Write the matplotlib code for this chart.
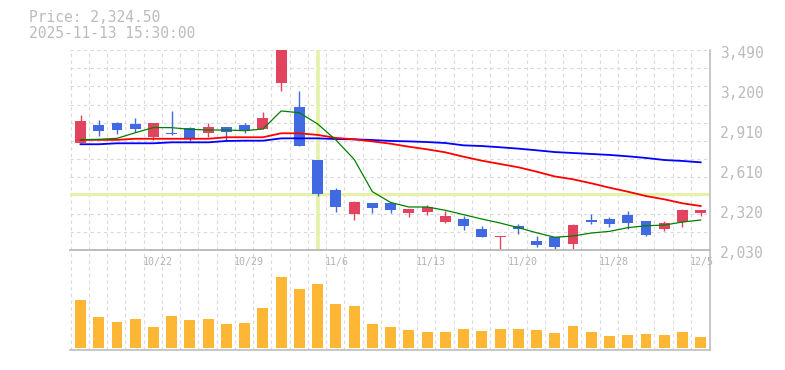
import matplotlib
matplotlib.use("Agg")
import matplotlib.pyplot as plt
import matplotlib.transforms as mtransforms
import numpy as np

# ---------------- data ----------------
dates = ["10/16", "10/17", "10/20", "10/21", "10/22", "10/23", "10/24",
         "10/27", "10/28", "10/29", "10/30", "10/31", "11/4", "11/5",
         "11/6", "11/7", "11/10", "11/11", "11/12", "11/13", "11/14",
         "11/17", "11/18", "11/19", "11/20", "11/21", "11/25", "11/26",
         "11/27", "11/28", "12/1", "12/2", "12/3", "12/4", "12/5"]

opens = [2813, 2942, 2957, 2950, 2855, 2884, 2921, 2884, 2928, 2942,
         2913, 3249, 3074, 2687, 2468, 2295, 2373, 2373, 2300, 2307,
         2234, 2256, 2183, 2125, 2205, 2096, 2125, 2074, 2249, 2256,
         2285, 2242, 2183, 2234, 2300]
highs = [3016, 2979, 2964, 2994, 2957, 3045, 2928, 2957, 2928, 2957,
         3037, 3490, 3191, 2687, 2483, 2388, 2373, 2373, 2329, 2358,
         2315, 2278, 2205, 2132, 2220, 2132, 2125, 2220, 2293, 2271,
         2315, 2242, 2242, 2329, 2324.5]
lows = [2811, 2864, 2877, 2891, 2835, 2869, 2826, 2855, 2826, 2884,
        2913, 3191, 2791, 2424, 2307, 2249, 2300, 2300, 2271, 2285,
        2227, 2176, 2125, 2030, 2147, 2052, 2030, 2037, 2220, 2198,
        2183, 2132, 2169, 2198, 2278]
closes = [2972, 2901, 2908, 2915, 2957, 2877, 2840, 2928, 2891, 2906,
          2994, 3490, 2791, 2439, 2346, 2380, 2339, 2324, 2329, 2344,
          2278, 2205, 2125, 2132, 2183, 2066, 2052, 2212, 2234, 2220,
          2227, 2139, 2227, 2322, 2324.5]

ma_short = [2835, 2838, 2845, 2886, 2924, 2923, 2911, 2906, 2906, 2901,
            2913, 3045, 3032, 2950, 2833, 2692, 2456, 2377, 2344, 2344,
            2320, 2288, 2256, 2227, 2193, 2156, 2123, 2132, 2154, 2166,
            2193, 2207, 2212, 2234, 2249]
ma_mid = [2834, 2834, 2834, 2842, 2842, 2842, 2842, 2842, 2853, 2853,
          2853, 2882, 2882, 2870, 2848, 2838, 2823, 2806, 2784, 2765,
          2743, 2711, 2682, 2658, 2634, 2602, 2567, 2546, 2517, 2485,
          2456, 2424, 2400, 2371, 2351]
ma_long = [2802, 2802, 2809, 2809, 2809, 2816, 2816, 2816, 2826, 2828,
           2828, 2845, 2845, 2845, 2840, 2838, 2833, 2826, 2823, 2818,
           2811, 2794, 2789, 2780, 2770, 2758, 2745, 2738, 2731, 2724,
           2714, 2702, 2687, 2680, 2670]

volumes = [480, 310, 260, 290, 210, 320, 280, 290, 240, 250,
           400, 710, 590, 640, 440, 420, 240, 210, 180, 160,
           160, 190, 170, 190, 190, 180, 150, 220, 160, 120,
           130, 140, 130, 160, 110]

ytick_values = [2030, 2322, 2614, 2906, 3198, 3490]
ytick_labels = ["2,030", "2,320", "2,610", "2,910", "3,200", "3,490"]
xlabel_dates = ["10/22", "10/29", "11/6", "11/13", "11/20", "11/28", "12/5"]

price_text = "Price: 2,324.50"
time_text = "2025-11-13 15:30:00"
cross_date = "11/5"
cross_price = 2442

# ---------------- styling ----------------
UP = "#e2445f"
DOWN = "#4169e1"
VOLC = "#fdb734"
GRID = "#d9d9d9"
BORDER = "#bdbdbd"
TXT = "#bbbbbb"
CROSS = "#e3f2a6"
MONO = "DejaVu Sans Mono"

W, H = 785, 370
fig = plt.figure(figsize=(W / 100, H / 100), dpi=100)
ax = fig.add_axes([70 / W, 120 / H, 640 / W, 200 / H])
axv = fig.add_axes([70 / W, 20 / H, 640 / W, 100 / H], sharex=ax)

x = np.arange(len(dates))
o = np.array(opens, float)
c = np.array(closes, float)
hi = np.array(highs, float)
lo = np.array(lows, float)
up = c >= o
cols = np.where(up, UP, DOWN)

ax.set_xlim(-0.576, 34.51)
ax.set_ylim(2030, 3490)
axv.set_ylim(-20, 980)

# grid
gx = x - 0.54
for a in (ax, axv):
    for g in gx:
        a.axvline(g, color=GRID, lw=0.8, ls=(0, (3, 3)), zorder=0)
for gy in np.linspace(2030, 3490, 12)[1:]:
    ax.axhline(gy, color=GRID, lw=0.8, ls=(0, (3, 3)), zorder=0)

# crosshair
ci = dates.index(cross_date)
ax.axvline(ci, color=CROSS, lw=2.6, zorder=1, ymin=0.01, ymax=0.99)
ax.axhline(cross_price, color=CROSS, lw=2.2, zorder=1)

# candles
ax.vlines(x, lo, hi, colors=cols, lw=1.0, zorder=3)
body = np.where(np.abs(c - o) < 7, 7, c - o)
ax.bar(x, body, bottom=o, width=0.6, color=cols, zorder=4, linewidth=0)

# moving averages
ax.plot(x, ma_long, color="#0000ff", lw=1.3, zorder=5)
ax.plot(x, ma_mid, color="#ff0000", lw=1.3, zorder=5)
ax.plot(x, ma_short, color="#008000", lw=0.9, zorder=6)

# volume
axv.bar(x, volumes, width=0.6, color=VOLC, zorder=3, linewidth=0)

# spines
for a in (ax, axv):
    a.tick_params(left=False, right=False, bottom=False, top=False,
                  labelleft=False, labelbottom=False)
    for s in a.spines.values():
        s.set_color(BORDER)
        s.set_linewidth(1.2)
    a.spines["left"].set_visible(False)
    a.set_facecolor("none")
ax.spines["top"].set_visible(False)

# y labels on right
ytrans = mtransforms.offset_copy(
    mtransforms.blended_transform_factory(ax.transAxes, ax.transData),
    fig=fig, x=10, y=-3.5, units="dots")
for v, lab in zip(ytick_values, ytick_labels):
    ax.text(1, v, lab, transform=ytrans, ha="left", va="center",
            fontsize=10.5, family=MONO, color=TXT, clip_on=False)

# date labels
xtrans = mtransforms.offset_copy(
    mtransforms.blended_transform_factory(axv.transData, axv.transAxes),
    fig=fig, x=-11, y=-12, units="dots")
for d in xlabel_dates:
    axv.text(dates.index(d), 1, d, transform=xtrans, ha="left", va="center",
             fontsize=7.2, family=MONO, color="#b3b3b3", clip_on=False)

# header
fig.text(29 / W, 1 - 18 / H, price_text, ha="left", va="center",
         fontsize=10.5, family=MONO, color=TXT)
fig.text(29 / W, 1 - 33 / H, time_text, ha="left", va="center",
         fontsize=10.5, family=MONO, color=TXT)

fig.savefig("out.png", dpi=100, facecolor="white")
